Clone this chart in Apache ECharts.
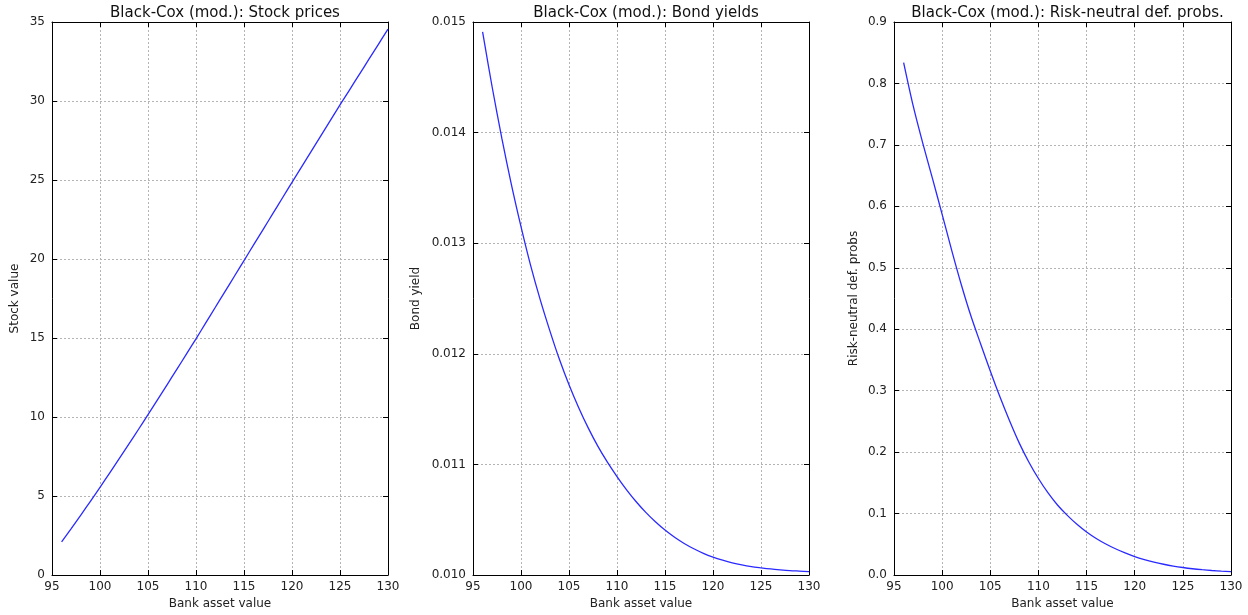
<!DOCTYPE html>
<html>
<head>
<meta charset="utf-8">
<script src="https://cdn.jsdelivr.net/npm/echarts@6/dist/echarts.min.js"></script>
<style>html,body{margin:0;padding:0;background:#fff;}#chart{width:1248px;height:615px;}</style>
</head>
<body>
<div id="chart"></div>
<script>
const assetValues = [96,97,98,99,100,101,102,103,104,105,106,107,108,109,110,111,112,113,114,115,116,117,118,119,120,121,122,123,124,125,126,127,128,129,130];
const stockValues = [2.10,2.94,3.795,4.665,5.55,6.45,7.36,8.28,9.21,10.15,11.10,12.055,13.015,13.98,14.95,15.94,16.93,17.92,18.91,19.90,20.89,21.88,22.87,23.86,24.85,25.83,26.81,27.79,28.77,29.75,30.71,31.67,32.63,33.59,34.55];
const bondYields = [0.01491,0.01441,0.01395,0.01353,0.01315,0.01280,0.01249,0.01221,0.01195,0.01172,0.011515,0.01133,0.011165,0.01102,0.01089,0.01077,0.010662,0.010566,0.010481,0.010406,0.010341,0.010285,0.010237,0.010196,0.010162,0.010134,0.01011,0.010091,0.010076,0.010065,0.010055,0.010047,0.01004,0.010035,0.01003];
const defaultProbs = [0.834,0.763,0.702,0.645,0.587,0.528,0.472,0.421,0.376,0.332,0.290,0.251,0.215,0.184,0.157,0.1335,0.1135,0.097,0.0825,0.070,0.0595,0.0505,0.0427,0.0359,0.0299,0.0250,0.0209,0.0175,0.0146,0.0122,0.0102,0.0086,0.0073,0.0063,0.0054];

const panelTitles = ['Black-Cox (mod.): Stock prices','Black-Cox (mod.): Bond yields','Black-Cox (mod.): Risk-neutral def. probs.'];
const yNames = ['Stock value','Bond yield','Risk-neutral def. probs'];
const xName = 'Bank asset value';
const xMin = 95, xMax = 130, xStep = 5;
const yRanges = [
  {min:0, max:35, interval:5, dec:0},
  {min:0.010, max:0.015, interval:0.001, dec:3},
  {min:0, max:0.9, interval:0.1, dec:1}
];
const seriesData = [stockValues, bondYields, defaultProbs];

const FONT = 'DejaVu Sans';
const grids = [
  {left:52, top:22, width:336, height:553, outerBoundsMode: 'none', containLabel: false},
  {left:473, top:22, width:336, height:553, outerBoundsMode: 'none', containLabel: false},
  {left:894, top:22, width:337, height:553, outerBoundsMode: 'none', containLabel: false}
];
const yNameGaps = [31, 51, 34];

const xAxes = [], yAxes = [], series = [], titles = [];
grids.forEach((g, i) => {
  titles.push({
    text: panelTitles[i], left: g.left + g.width/2, top: 1, textAlign: 'center',
    textStyle: {fontFamily: FONT, fontSize: 15, fontWeight: 'normal', color: '#111'}
  });
  const lineStyle = {color: '#000', width: 1};
  const gridLine = {show: true, lineStyle: {color: '#b4b4b4', type: [2, 2], width: 1}};
  xAxes.push({
    type: 'value', gridIndex: i, min: xMin, max: xMax, interval: xStep, position: 'bottom',
    name: xName, nameLocation: 'middle', nameGap: 23,
    nameTextStyle: {fontFamily: FONT, fontSize: 12, color: '#222'},
    axisLine: {show: true, onZero: false, lineStyle},
    axisTick: {show: true, inside: true, length: 5, lineStyle},
    axisLabel: {fontFamily: FONT, fontSize: 12, color: '#222', margin: 6, showMinLabel: true, showMaxLabel: true},
    splitLine: gridLine
  });
  xAxes.push({
    type: 'value', gridIndex: i, min: xMin, max: xMax, interval: xStep, position: 'top',
    axisLine: {show: true, onZero: false, lineStyle},
    axisTick: {show: true, inside: true, length: 5, lineStyle},
    axisLabel: {show: false}, splitLine: {show: false}
  });
  const r = yRanges[i];
  yAxes.push({
    type: 'value', gridIndex: i, min: r.min, max: r.max, interval: r.interval, position: 'left',
    name: yNames[i], nameLocation: 'middle', nameGap: yNameGaps[i],
    nameTextStyle: {fontFamily: FONT, fontSize: 12, color: '#222'},
    axisLine: {show: true, onZero: false, lineStyle},
    axisTick: {show: true, inside: true, length: 5, lineStyle},
    axisLabel: {fontFamily: FONT, fontSize: 12, color: '#222', margin: 7, showMinLabel: true, showMaxLabel: true,
      formatter: v => Number(v).toFixed(r.dec)},
    splitLine: gridLine
  });
  yAxes.push({
    type: 'value', gridIndex: i, min: r.min, max: r.max, interval: r.interval, position: 'right',
    axisLine: {show: true, onZero: false, lineStyle},
    axisTick: {show: true, inside: true, length: 5, lineStyle},
    axisLabel: {show: false}, splitLine: {show: false}
  });
  series.push({
    type: 'line', xAxisIndex: 2*i, yAxisIndex: 2*i, showSymbol: false, smooth: 0.3,
    lineStyle: {color: '#2a2aff', width: 1.3},
    data: assetValues.map((x, k) => [x, seriesData[i][k]])
  });
});

const chart = echarts.init(document.getElementById('chart'), null, {renderer: 'canvas'});
chart.setOption({
  animation: false,
  backgroundColor: '#fff',
  title: titles,
  grid: grids,
  xAxis: xAxes,
  yAxis: yAxes,
  series: series
});
</script>
</body>
</html>
